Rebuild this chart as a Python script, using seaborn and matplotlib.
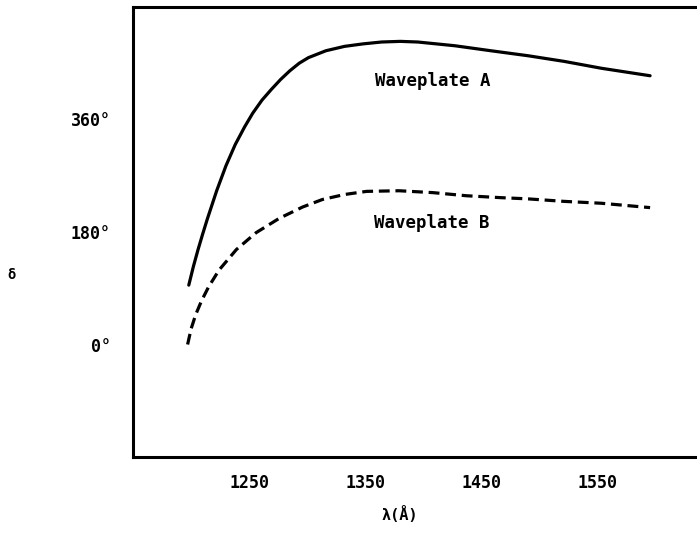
import matplotlib
matplotlib.use("Agg")
import matplotlib.pyplot as plt
import seaborn as sns
import pandas as pd

# Retardance of two waveplates versus wavelength
wavelength_a = [1198, 1202, 1206, 1210, 1214, 1222, 1230, 1238, 1246, 1253,
                1261, 1269, 1277, 1285, 1293, 1301, 1316, 1332, 1348, 1364,
                1380, 1395, 1427, 1458, 1490, 1521, 1553, 1595]
retard_a = [95, 125, 152, 177, 201, 246, 286, 320, 348, 370,
            391, 408, 424, 438, 450, 459, 470, 477, 481, 484,
            485, 484, 478, 470, 462, 453, 442, 430]

wavelength_b = [1197, 1200, 1204, 1209, 1215, 1224, 1239, 1256, 1276, 1296,
                1313, 1332, 1351, 1379, 1408, 1437, 1466, 1490, 1521, 1553,
                1595]
retard_b = [0, 25, 48, 70, 92, 119, 152, 179, 202, 220,
            232, 240, 245, 246, 243, 238, 235, 233, 229, 226,
            219]

x_ticks = [1250, 1350, 1450, 1550]
y_ticks = [0, 180, 360]
y_tick_labels = ["0°", "180°", "360°"]

df_a = pd.DataFrame({"wl": wavelength_a, "delta": retard_a})
df_b = pd.DataFrame({"wl": wavelength_b, "delta": retard_b})

sns.set_style("white")
plt.rcParams["font.family"] = ["DejaVu Sans Mono", "DejaVu Sans"]

fig = plt.figure(figsize=(6.97, 5.35), dpi=100)
ax = fig.add_axes([133 / 697, 78 / 535, 581 / 697, 450 / 535])

sns.lineplot(data=df_a, x="wl", y="delta", ax=ax, color="black",
             linewidth=2.3, sort=False)
sns.lineplot(data=df_b, x="wl", y="delta", ax=ax, color="black",
             linewidth=2.3, sort=False)
ax.lines[1].set_dashes([3.4, 1.8])
for ln in ax.lines:
    ln.set_solid_capstyle("round")
    ln.set_solid_joinstyle("round")

ax.set_xlim(1150, 1650)
ax.set_ylim(-180, 540)
ax.set_xticks(x_ticks)
ax.set_xticklabels([str(t) for t in x_ticks])
ax.set_yticks(y_ticks)
ax.set_yticklabels(y_tick_labels)
ax.set_xlabel("")
ax.set_ylabel("")

for side in ["top", "bottom", "left", "right"]:
    ax.spines[side].set_visible(True)
    ax.spines[side].set_color("black")
    ax.spines[side].set_linewidth(2.2)

ax.tick_params(axis="both", direction="out", length=3, width=2,
               color="black", labelsize=12, labelcolor="black")
ax.tick_params(axis="x", pad=9)
ax.tick_params(axis="y", pad=13)
for lab in ax.get_xticklabels() + ax.get_yticklabels():
    lab.set_fontweight("bold")

ax.text(1408, 422, "Waveplate A", ha="center", va="center",
        fontsize=12.5, fontweight="bold", color="black")
ax.text(1407, 194, "Waveplate B", ha="center", va="center",
        fontsize=12.5, fontweight="bold", color="black")

fig.text(12 / 697, 1 - 275 / 535, "δ", ha="center", va="center",
         fontsize=10, fontweight="bold", color="black")
fig.text(400 / 697, 1 - 515 / 535, "λ(Å)", ha="center", va="center",
         fontsize=11, fontweight="bold", color="black")

fig.savefig("out.png", dpi=100, facecolor="white")
